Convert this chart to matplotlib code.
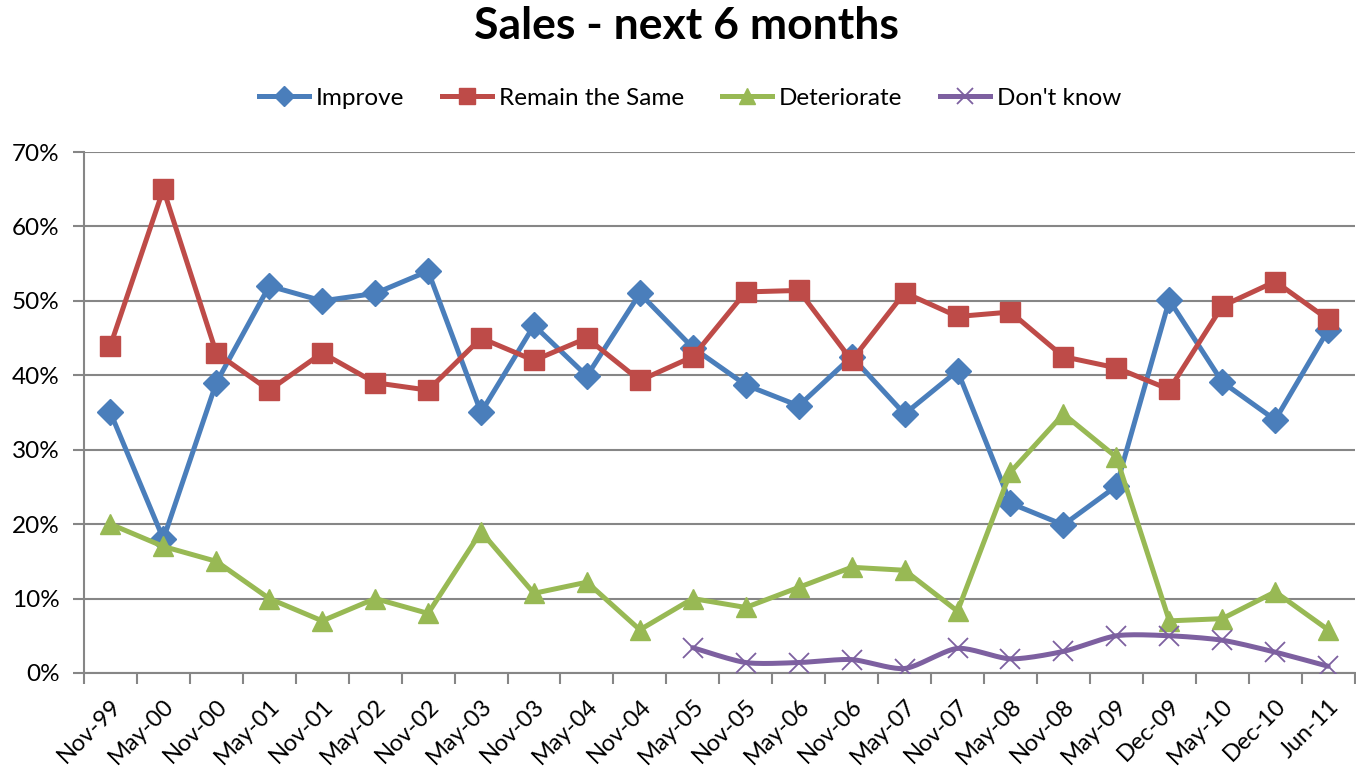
import numpy as np
import matplotlib
matplotlib.use("Agg")
import matplotlib.pyplot as plt
from matplotlib.ticker import FixedLocator, FuncFormatter

plt.rcParams['font.family'] = ['Lato', 'DejaVu Sans']

categories = ["Nov-99", "May-00", "Nov-00", "May-01", "Nov-01", "May-02", "Nov-02",
              "May-03", "Nov-03", "May-04", "Nov-04", "May-05", "Nov-05", "May-06",
              "Nov-06", "May-07", "Nov-07", "May-08", "Nov-08", "May-09", "Dec-09",
              "May-10", "Dec-10", "Jun-11"]

improve = [35, 18, 39, 52, 50, 51, 54, 35, 46.7, 39.9, 51, 43.7, 38.7, 35.9,
           42.5, 34.8, 40.6, 22.8, 19.9, 25.1, 50.1, 39.1, 34.0, 46.1]
remain = [44, 65, 43, 38, 43, 39, 38, 45, 42, 45, 39.3, 42.5, 51.2, 51.4,
          42, 51.1, 47.9, 48.5, 42.5, 41, 38.1, 49.3, 52.6, 47.5]
deteriorate = [20, 17, 15, 10, 7, 10, 8, 19, 10.7, 12.2, 5.8, 10, 8.8, 11.5,
               14.2, 13.8, 8.3, 27, 34.8, 29, 7, 7.3, 10.9, 5.8]
dont_know = [None] * 11 + [3.4, 1.4, 1.4, 1.8, 0.6, 3.3, 1.9, 2.9, 5.0, 5.0, 4.4, 2.8, 0.9]

C_BLUE = "#4A7EBB"
C_RED = "#BE4B48"
C_GREEN = "#98B954"
C_PURPLE = "#7D60A0"
GRID = "#868686"
LW = 3.6

fig = plt.figure(figsize=(13.56, 7.78), dpi=100)
ax = fig.add_axes([0.0619, 0.135, 0.999 - 0.0619, 0.8046 - 0.135])

x = np.arange(len(categories))

ax.plot(x, improve, color=C_BLUE, lw=LW, marker='D', ms=13, mec=C_BLUE,
        mfc=C_BLUE, label="Improve", zorder=3)
ax.plot(x, remain, color=C_RED, lw=LW, marker='s', ms=14, mec=C_RED,
        mfc=C_RED, label="Remain the Same", zorder=3)
ax.plot(x, deteriorate, color=C_GREEN, lw=LW, marker='^', ms=15, mec=C_GREEN,
        mfc=C_GREEN, label="Deteriorate", zorder=3)

# Don't know: smoothed line through the data points
dk_idx = [i for i, v in enumerate(dont_know) if v is not None]
dk_x = np.array([x[i] for i in dk_idx], dtype=float)
dk_y = np.array([dont_know[i] for i in dk_idx], dtype=float)

def smooth_path(px, py, n=20, k=8.0):
    P = np.column_stack([px, py])
    P = np.vstack([P[0], P, P[-1]])
    out = []
    for i in range(1, len(P) - 2):
        p0, p1, p2, p3 = P[i - 1], P[i], P[i + 1], P[i + 2]
        t = np.linspace(0, 1, n, endpoint=False)[:, None]
        c1 = p1 + (p2 - p0) / k
        c2 = p2 - (p3 - p1) / k
        seg = ((1 - t) ** 3) * p1 + 3 * ((1 - t) ** 2) * t * c1 + 3 * (1 - t) * t ** 2 * c2 + t ** 3 * p2
        out.append(seg)
    out.append(P[-2][None, :])
    return np.vstack(out)

sm = smooth_path(dk_x, dk_y)
ax.plot(sm[:, 0], sm[:, 1], color=C_PURPLE, lw=LW, zorder=3, solid_capstyle='round')
ax.plot(dk_x, dk_y, ls='none', marker='x', ms=14, mew=1.3, color=C_PURPLE, zorder=4)
dk_handle = plt.Line2D([], [], color=C_PURPLE, lw=LW, marker='x', ms=14, mew=1.3,
                       label="Don't know")

ax.set_xlim(-0.5, len(categories) - 0.5)
ax.set_ylim(0, 70)

ax.yaxis.set_major_locator(FixedLocator(np.arange(0, 71, 10)))
ax.yaxis.set_major_formatter(FuncFormatter(lambda v, p: f"{int(round(v))}%"))
ax.grid(axis='y', color=GRID, lw=1.5, zorder=0)
ax.set_axisbelow(True)

ax.set_xticks(x)
ax.set_xticklabels(categories, rotation=45, ha='right', va='top', rotation_mode='anchor')
ax.set_xticks(np.arange(-0.5, len(categories)), minor=True)
ax.tick_params(axis='x', which='major', length=0, pad=16, labelsize=17)
ax.tick_params(axis='x', which='minor', length=8, width=1.5, color=GRID, direction='out')
ax.tick_params(axis='y', length=8, width=1.5, color=GRID, labelsize=17.5, pad=9.5)

for s in ['top', 'right']:
    ax.spines[s].set_visible(False)
for s in ['left', 'bottom']:
    ax.spines[s].set_color(GRID)
    ax.spines[s].set_linewidth(1.5)

fig.text(0.506, 0.967, "Sales - next 6 months", ha='center', va='center',
         fontsize=32, fontweight='bold')

handles, labels = ax.get_legend_handles_labels()
handles.append(dk_handle)
labels.append("Don't know")
fig.legend(handles, labels, loc='center', bbox_to_anchor=(0.509, 0.874), ncol=4,
           frameon=False, fontsize=17.5, handlelength=2.05, columnspacing=1.55,
           handletextpad=0.3, markerscale=0.8)

fig.savefig("out.png", dpi=100)
